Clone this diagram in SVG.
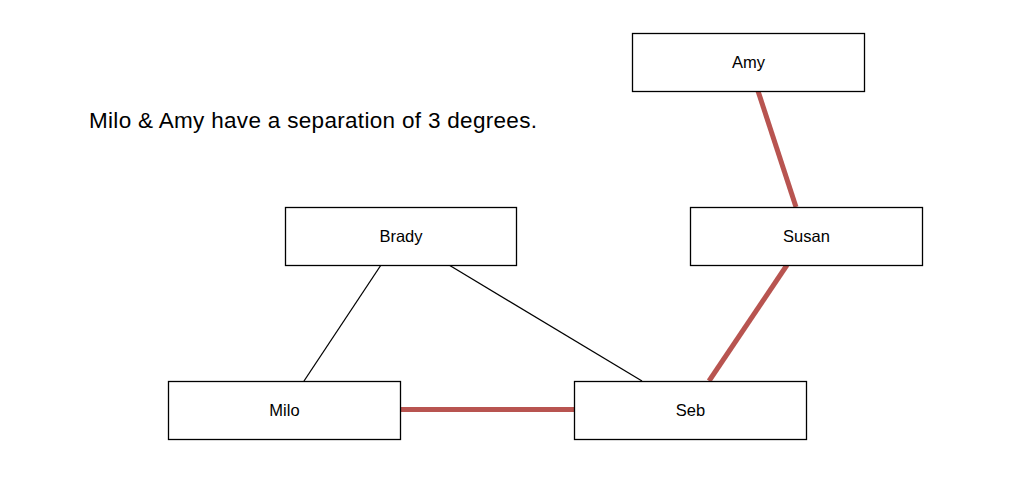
<svg xmlns="http://www.w3.org/2000/svg" width="1033" height="478" viewBox="0 0 1033 478">
<style>
.box{fill:#fff;stroke:#000;stroke-width:1.3}
.lbl{font-family:"Liberation Sans",Arial,sans-serif;font-size:16.5px;fill:#000;text-anchor:middle;dominant-baseline:central}
.red{stroke:#b85450;stroke-width:5;fill:none}
.blk{stroke:#000;stroke-width:1.3;fill:none}
</style>
<rect width="1033" height="478" fill="#fff"/>
<g id="connectors">
<line class="red" x1="758" y1="91" x2="796" y2="207"/>
<line class="red" x1="787" y1="265" x2="709" y2="381"/>
<line class="red" x1="400" y1="409.5" x2="574" y2="409.5"/>
<line class="blk" x1="381" y1="265" x2="304" y2="381"/>
<line class="blk" x1="449" y1="265" x2="642" y2="381"/>
</g>
<g id="node-amy"><rect class="box" x="632.5" y="33.5" width="232" height="58"/><text class="lbl" x="748.5" y="61.5">Amy</text></g>
<g id="node-brady"><rect class="box" x="285.5" y="207.5" width="231" height="58"/><text class="lbl" x="401" y="235.5">Brady</text></g>
<g id="node-susan"><rect class="box" x="690.5" y="207.5" width="232" height="58"/><text class="lbl" x="806.5" y="235.5">Susan</text></g>
<g id="node-milo"><rect class="box" x="168.5" y="381.5" width="232" height="58"/><text class="lbl" x="284.5" y="409.5">Milo</text></g>
<g id="node-seb"><rect class="box" x="574.5" y="381.5" width="232" height="58"/><text class="lbl" x="690.5" y="409.5">Seb</text></g>
<text id="caption" x="89" y="128" font-family="Liberation Sans, Arial, sans-serif" font-size="22.5" textLength="448" lengthAdjust="spacing" fill="#000">Milo &amp; Amy have a separation of 3 degrees.</text>
</svg>
